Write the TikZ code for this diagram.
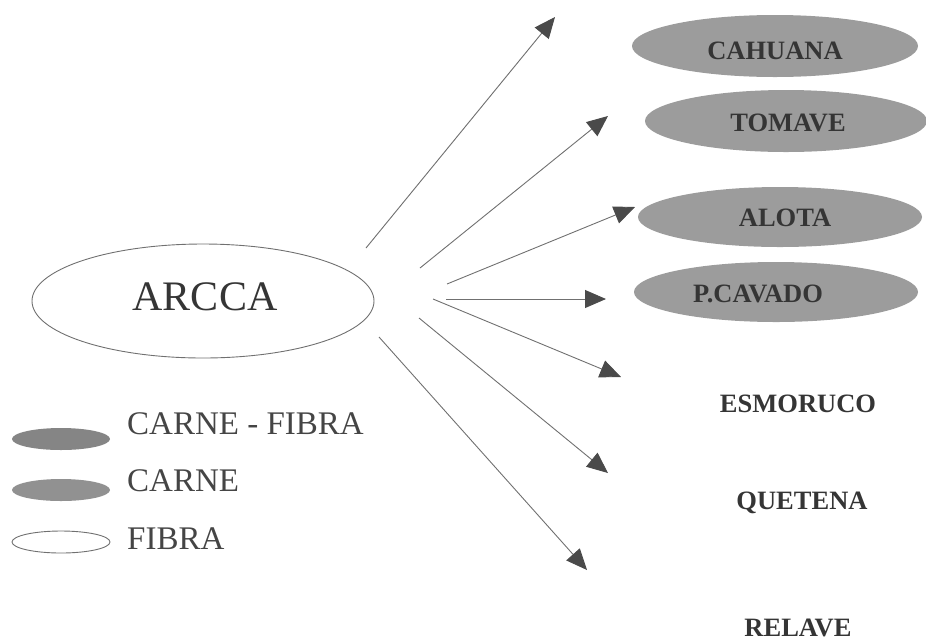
\documentclass[tikz,border=0pt]{standalone}
\usepackage{fontspec}
\setmainfont{Liberation Serif}
\usetikzlibrary{shapes.geometric,arrows.meta}
\definecolor{shade}{HTML}{9C9C9C}
\definecolor{legshade}{HTML}{858585}
\definecolor{txtdark}{HTML}{353535}
\definecolor{txtleg}{HTML}{454545}
\definecolor{linegray}{HTML}{707070}
\definecolor{tipgray}{HTML}{4A4A4A}
\tikzset{
  farm/.style={ellipse, fill=shade, draw=none, inner sep=0pt},
  farmtxt/.style={font=\fontsize{26.5}{30}\selectfont\bfseries, text=txtdark, inner sep=0pt},
  legell/.style={ellipse, inner sep=0pt, minimum width=98pt, minimum height=22pt},
  legtxt/.style={font=\fontsize{33}{38}\selectfont, text=txtleg, inner sep=0pt, anchor=west},
  conn/.style={draw=linegray, line width=0.9pt,
    -{Triangle[length=21pt,width=18pt,color=tipgray,fill=tipgray]}},
}
\begin{document}
\begin{tikzpicture}[x=1pt,y=-1pt]
\useasboundingbox (0,0) rectangle (926,641);
% central node
\node[ellipse, draw=linegray, line width=0.9pt, minimum width=342pt, minimum height=114pt, inner sep=0pt] (arcca) at (203,301) {};
\node[font=\fontsize{42}{48}\selectfont, text=txtdark, inner sep=0pt] (arccatxt) at (205,297) {ARCCA};
% shaded destinations
\node[farm, minimum width=286pt, minimum height=62pt] (cah) at (775,46) {};
\node[farmtxt] (cahtxt) at (775,51) {CAHUANA};
\node[farm, minimum width=282pt, minimum height=62pt] (tom) at (786,121) {};
\node[farmtxt] (tomtxt) at (788,123) {TOMAVE};
\node[farm, minimum width=284pt, minimum height=60pt] (alo) at (780,217) {};
\node[farmtxt] (alotxt) at (785,218) {ALOTA};
\node[farm, minimum width=284pt, minimum height=60pt] (pca) at (776,292) {};
\node[farmtxt] (pcatxt) at (758,294) {P.CAVADO};
% plain destinations
\node[farmtxt] (esm) at (798,404) {ESMORUCO};
\node[farmtxt] (que) at (802,503) {QUETENA};
\node[farmtxt] (rel) at (798,628) {RELAVE};
% arrow ends
\coordinate (s1) at (366,248); \coordinate (e1) at (555,17);
\coordinate (s2) at (420,268); \coordinate (e2) at (608,116);
\coordinate (s3) at (447,284); \coordinate (e3) at (635,207);
\coordinate (s4) at (446,299); \coordinate (e4) at (606,299);
\coordinate (s5) at (433,299); \coordinate (e5) at (621,377);
\coordinate (s6) at (419,318); \coordinate (e6) at (608,473);
\coordinate (s7) at (379,337); \coordinate (e7) at (587,570);
\draw[conn] (s1) -- (e1);
\draw[conn] (s2) -- (e2);
\draw[conn] (s3) -- (e3);
\draw[conn] (s4) -- (e4);
\draw[conn] (s5) -- (e5);
\draw[conn] (s6) -- (e6);
\draw[conn] (s7) -- (e7);
% legend
\node[legell, fill=legshade] (lg1) at (61,439) {};
\node[legell, fill=legshade!90!white] (lg2) at (61,490) {};
\node[legell, draw=linegray, line width=0.9pt] (lg3) at (61,542) {};
\node[legtxt] (lt1) at (127,424) {CARNE - FIBRA};
\node[legtxt] (lt2) at (127,481) {CARNE};
\node[legtxt] (lt3) at (127,539) {FIBRA};
\end{tikzpicture}
\end{document}
